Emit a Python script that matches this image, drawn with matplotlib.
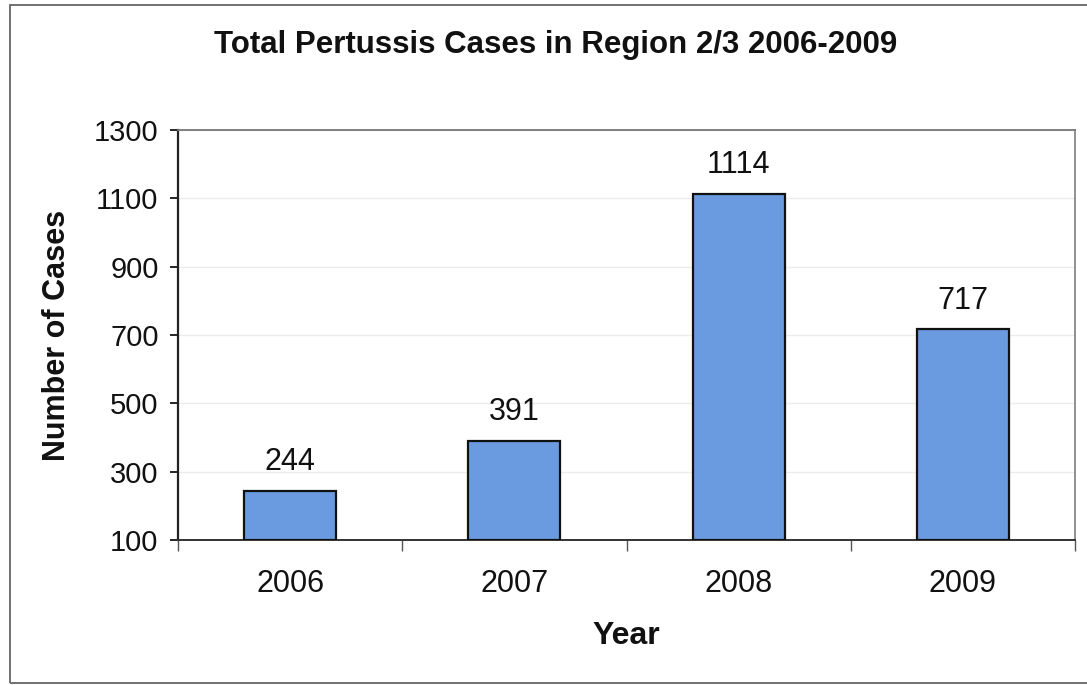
import matplotlib.pyplot as plt
from matplotlib.patches import Rectangle

years = ['2006', '2007', '2008', '2009']
cases = [244, 391, 1114, 717]
y_ticks = [100, 300, 500, 700, 900, 1100, 1300]

plt.rcParams['font.family'] = ['Liberation Sans', 'DejaVu Sans']

fig = plt.figure(figsize=(10.87, 6.85), dpi=100)
ax = fig.add_axes([178 / 1087, 1 - 540 / 685, (1075 - 178) / 1087, (540 - 130) / 685])

x = list(range(len(years)))
ax.bar(x, [c - 100 for c in cases], bottom=100, width=0.41,
       color='#6a9be0', edgecolor='#111111', linewidth=1.6, zorder=3)

for xi, c in zip(x, cases):
    ax.text(xi, c + 40, str(c), ha='center', va='bottom', fontsize=22, color='#111111')

ax.set_xlim(-0.5, len(years) - 0.5)
ax.set_ylim(100, 1300)
ax.set_yticks(y_ticks)
ax.set_yticklabels([str(t) for t in y_ticks], fontsize=21, color='#111111')
ax.set_xticks(x)
ax.set_xticklabels(years, fontsize=22, color='#111111')
ax.tick_params(axis='x', length=0, pad=21)
ax.tick_params(axis='y', length=6, width=1.2, pad=8, direction='out')

# category divider ticks below the x axis
ax.set_xticks([i - 0.5 for i in range(len(years) + 1)], minor=True)
ax.tick_params(axis='x', which='minor', length=8, width=1.0, color='#555555')

ax.grid(axis='y', color='#ececec', linewidth=1.0, zorder=0)

ax.spines['left'].set_color('#222222')
ax.spines['left'].set_linewidth(1.6)
ax.spines['bottom'].set_color('#333333')
ax.spines['bottom'].set_linewidth(1.4)
ax.spines['top'].set_color('#777777')
ax.spines['top'].set_linewidth(1.3)
ax.spines['right'].set_color('#888888')
ax.spines['right'].set_linewidth(1.3)

ax.set_ylabel('Number of Cases', fontsize=22, fontweight='bold', labelpad=16, color='#111111')
ax.set_xlabel('Year', fontsize=23, fontweight='bold', labelpad=16, color='#111111')

fig.text(556 / 1087, 1 - 45 / 685, 'Total Pertussis Cases in Region 2/3 2006-2009',
         ha='center', va='center', fontsize=22.5, fontweight='bold', color='#111111')

# outer chart border
fig.patches.append(Rectangle((10 / 1087, 2 / 685), 1.05, 1 - 7 / 685, transform=fig.transFigure,
                             fill=False, edgecolor='#666666', linewidth=1.3))

fig.savefig('out.png', dpi=100, facecolor='white')
